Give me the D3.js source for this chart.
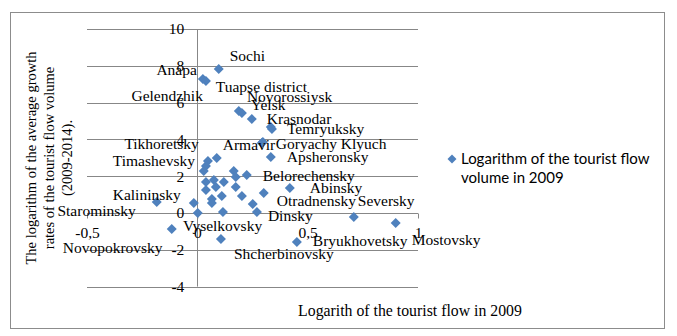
<!DOCTYPE html>
<html>
<head>
<meta charset="utf-8">
<script src="https://cdn.jsdelivr.net/npm/d3@7"></script>
<style>
  html, body { margin: 0; padding: 0; background: #fff; }
  svg { display: block; }
</style>
</head>
<body>
<svg id="chart" width="677" height="336"></svg>
<script>
// Municipalities of Krasnodar Krai: log of tourist flow in 2009 (x)
// against log of average growth rate 2009-2014 (y). Empty name = unlabeled point.
const names = [
  "Sochi", "Anapa", "Gelendzhik", "Tuapse district", "Novorossiysk", "Yelsk",
  "Krasnodar", "Temryuksky", "Armavir", "Goryachy Klyuch", "Apsheronsky",
  "Tikhoretsky", "Timashevsky", "", "", "", "Belorechensky", "", "", "", "",
  "", "", "", "", "Abinsky", "", "", "", "", "Starominsky", "Otradnensky",
  "Kalininsky", "", "Vyselkovsky", "Dinsky", "Novopokrovsky", "Shcherbinovsky",
  "Bryukhovetsky", "Seversky", "Mostovsky"
];
const logFlow2009 = [
  0.097, 0.025, 0.039, 0.188, 0.202, 0.247,
  0.333, 0.338, 0.292, 0.297, 0.333,
  0.088, 0.048, 0.039, 0.029, 0.165, 0.224, 0.174, 0.039, 0.075, 0.120,
  0.084, 0.039, 0.174, 0.301, 0.419, 0.111, 0.066, 0.066, 0.202, -0.016, 0.251,
  -0.184, 0.002, 0.116, 0.270, -0.116, 0.107,
  0.451, 0.709, 0.899
];
const logGrowth = [
  7.83, 7.28, 7.17, 5.54, 5.43, 5.11,
  4.67, 4.57, 3.80, 3.86, 3.04,
  2.99, 2.83, 2.55, 2.28, 2.28, 2.07, 1.96, 1.68, 1.79, 1.68,
  1.41, 1.25, 1.41, 1.09, 1.36, 0.92, 0.76, 0.54, 0.92, 0.54, 0.49,
  0.60, 0.00, 0.05, 0.05, -0.87, -1.41,
  -1.58, -0.22, -0.54
];
const xTicks = [-0.5, 0, 0.5, 1];
const yTicks = [-4, -2, 0, 2, 4, 6, 8, 10];
const seriesName = ["Logarithm of the tourist flow", "volume in 2009"];
const xTitle = "Logarith of the tourist flow in 2009";
const yTitle = ["The logarithm of the average growth", "rates of the tourist flow volume", "(2009-2014)."];

// label placement: [dx, dy, anchor] in pixels from the marker
const labelPlacement = {
  "Sochi": [11, -13, "start"],
  "Anapa": [-6, -9, "end"],
  "Gelendzhik": [-3, 15, "end"],
  "Tuapse district": [-23, -24, "start"],
  "Novorossiysk": [5, -17, "start"],
  "Yelsk": [-1, -14, "start"],
  "Krasnodar": [-4, -8, "start"],
  "Temryuksky": [15, 0, "start"],
  "Armavir": [-39, 1, "start"],
  "Goryachy Klyuch": [13, 2, "start"],
  "Apsheronsky": [16, 0, "start"],
  "Tikhoretsky": [-18, -14, "end"],
  "Timashevsky": [-13, 0, "end"],
  "Belorechensky": [16, 1, "start"],
  "Abinsky": [20, 0, "start"],
  "Kalininsky": [-44, -7, "start"],
  "Otradnensky": [24, -3, "start"],
  "Seversky": [4, -16, "start"],
  "Starominsky": [-58, 8, "end"],
  "Dinsky": [11, 3, "start"],
  "Vyselkovsky": [-40, 13, "start"],
  "Novopokrovsky": [-109, 19, "start"],
  "Bryukhovetsky": [16, -1, "start"],
  "Shcherbinovsky": [13, 15, "start"],
  "Mostovsky": [16, 17, "start"]
};

const points = names.map((n, i) => ({ name: n, x: logFlow2009[i], y: logGrowth[i] }));

const svg = d3.select("#chart");
const serif = "'Liberation Serif', 'Times New Roman', serif";
const gridColor = "#878787";
const markColor = "#4f81bd";

// outer chart frame
svg.append("rect")
  .attr("x", 10.5).attr("y", 12.5).attr("width", 654).attr("height", 316)
  .attr("fill", "#fff").attr("stroke", "#8c8c8c").attr("stroke-width", 1);

const x = d3.scaleLinear().domain([-0.5, 1]).range([87, 418]);
const y = d3.scaleLinear().domain([-4, 10]).range([286.6, 29]);

// horizontal gridlines (the y = 0 line doubles as the x axis)
svg.append("g").selectAll("line").data(yTicks).join("line")
  .attr("x1", x(-0.5)).attr("x2", x(1))
  .attr("y1", d => Math.round(y(d)) + 0.5).attr("y2", d => Math.round(y(d)) + 0.5)
  .attr("stroke", gridColor).attr("stroke-width", 1);

// vertical axis through x = 0
svg.append("line")
  .attr("x1", Math.round(x(0)) + 0.5).attr("x2", Math.round(x(0)) + 0.5)
  .attr("y1", y(10)).attr("y2", y(-4))
  .attr("stroke", gridColor).attr("stroke-width", 1);

// x axis ticks and labels along y = 0
const xAxis = d3.axisBottom(x).tickValues(xTicks).tickSize(5).tickPadding(8)
  .tickFormat(d => String(d).replace(".", ","));
const gx = svg.append("g").attr("transform", `translate(0,${Math.round(y(0)) + 0.5})`).call(xAxis);
gx.select(".domain").remove();
gx.selectAll(".tick line").attr("stroke", gridColor);
gx.selectAll(".tick text").attr("font-family", serif).attr("font-size", 15.5).attr("fill", "#000");

// y tick labels beside the vertical axis
const yAxis = d3.axisLeft(y).tickValues(yTicks).tickSize(0).tickPadding(13)
  .tickFormat(d => String(d));
const gy = svg.append("g").attr("transform", `translate(${x(0)},0)`).call(yAxis);
gy.select(".domain").remove();
gy.selectAll(".tick text").attr("font-family", serif).attr("font-size", 15.5).attr("fill", "#000");

// markers
const diamond = d3.symbol().type(d3.symbolSquare).size(50);
svg.append("g").selectAll("path").data(points).join("path")
  .attr("d", diamond)
  .attr("transform", d => `translate(${x(d.x)},${y(d.y)}) rotate(45)`)
  .attr("fill", markColor);

// data labels
svg.append("g").selectAll("text").data(points.filter(p => p.name && labelPlacement[p.name])).join("text")
  .attr("x", d => x(d.x) + labelPlacement[d.name][0])
  .attr("y", d => y(d.y) + labelPlacement[d.name][1])
  .attr("dy", "0.35em")
  .attr("text-anchor", d => labelPlacement[d.name][2])
  .attr("font-family", serif).attr("font-size", 15.5).attr("fill", "#000")
  .text(d => d.name);

// axis titles
svg.append("text")
  .attr("x", 410).attr("y", 310).attr("dy", "0.35em")
  .attr("text-anchor", "middle")
  .attr("font-family", serif).attr("font-size", 15.8)
  .text(xTitle);

const yt = svg.append("text")
  .attr("transform", "translate(31,158) rotate(-90)")
  .attr("text-anchor", "middle")
  .attr("font-family", serif).attr("font-size", 14.5);
yt.selectAll("tspan").data(yTitle).join("tspan")
  .attr("x", 0).attr("y", (d, i) => i * 18).attr("dy", "0.35em")
  .text(d => d);

// legend
const lg = svg.append("g").attr("transform", "translate(452,159)");
lg.append("path")
  .attr("d", d3.symbol().type(d3.symbolSquare).size(40))
  .attr("transform", "rotate(45)")
  .attr("fill", markColor);
lg.selectAll("text").data(seriesName).join("text")
  .attr("x", 9)
  .attr("y", (d, i) => i * 19)
  .attr("dy", "0.35em")
  .attr("font-family", "Lato, 'Open Sans', sans-serif")
  .attr("font-size", 15)
  .attr("fill", "#000")
  .text(d => d);
</script>
</body>
</html>
